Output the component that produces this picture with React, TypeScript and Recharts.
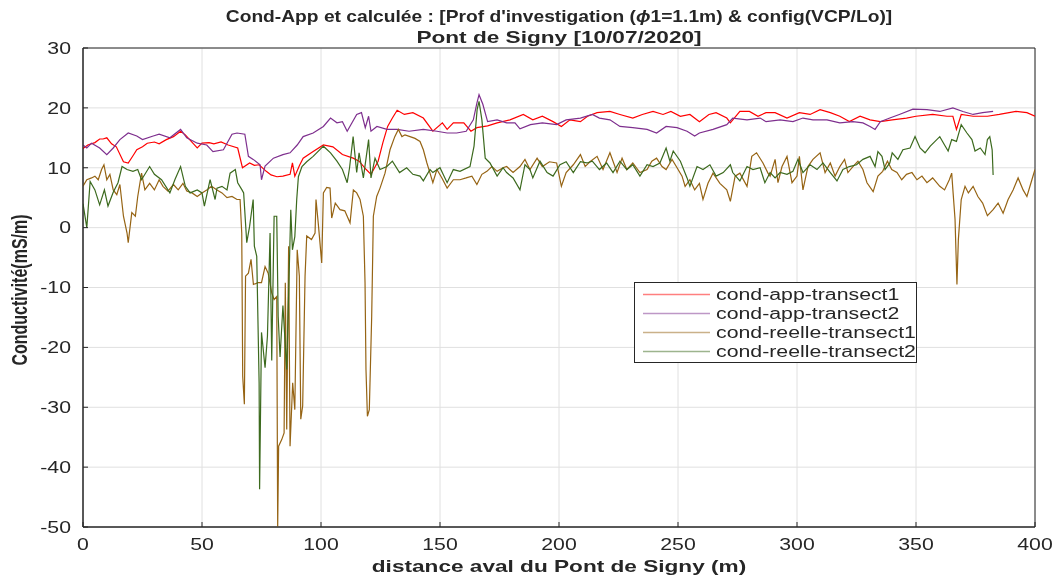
import { LineChart, Line, XAxis, YAxis, CartesianGrid, ReferenceArea } from "recharts";

const FONT = '"Liberation Sans", Arial, sans-serif';
const INK = "#262626";
// the source figure is stretched sideways, text included
const STRETCH = 1.33;

// distance (m), conductivité (mS/m)
const appTransect1: [number, number][] = [
  [0, 13.2], [2, 13.8], [5, 14.2], [7, 14.8], [8.4, 14.8], [10, 15], [12, 14], [14, 13.5], [17, 11], [19, 10.8],
  [21, 12], [22.6, 13], [25, 13.5], [27, 14.1], [30, 14.3], [32, 14], [35, 14.7], [38, 15.2], [41, 16.1], [43, 15.5],
  [45, 14.6], [48, 13.3], [50, 14.1], [53, 14.2], [55, 14], [58, 14.3], [61, 13.8], [65, 13.3], [67, 10], [70, 10.8],
  [72, 10.4], [74, 10.5], [77, 9.4], [79, 8.8], [81.5, 8.5], [84, 8.6], [87, 8.9], [88, 10.8], [89, 8.6], [91, 10.4],
  [92.5, 11.6], [96.7, 12.7], [101, 13.8], [105, 13.5], [109, 12.2], [113.5, 11.6], [116, 11.1], [119, 9.7], [121, 8.9], [124, 11.1],
  [126, 14.2], [128, 16.9], [130, 18.3], [132, 19.6], [135, 18.9], [138.6, 19.2], [143, 18.3], [147, 16.1], [151, 17.5], [153, 16.4],
  [155.6, 17.5], [160, 17.5], [163, 16.1], [165.5, 16.7], [170, 17], [174, 17.5], [179.4, 18], [185, 18.9], [189, 18], [193, 18.6],
  [197.5, 17.7], [201, 16.9], [204.6, 18], [209, 17.7], [212, 18.6], [216, 19.2], [221.4, 19.4], [225.6, 18.9], [231, 18.3], [235, 18.9],
  [239.5, 19.4], [243.7, 18.9], [247, 19.4], [251, 18.6], [255, 18.9], [259, 17.7], [263, 18.9], [266, 19.2], [270.5, 18.3], [272, 17.5],
  [276, 19.4], [280, 19.4], [283.6, 18.6], [287, 19.2], [290.8, 19.2], [295.8, 18.3], [301, 19.2], [305.5, 18.9], [309.7, 19.7], [314, 19.2],
  [318, 18.6], [322, 17.7], [326.5, 18.6], [330.7, 18], [335, 17.7], [340, 18], [346, 18.3], [350, 18.6], [357, 18.9], [363, 18.6],
  [365.5, 18.6], [367, 16.4], [369, 18.9], [374, 18.6], [380, 18.6], [385, 18.9], [392, 19.4], [396.6, 19.2], [400, 18.6],
];

const appTransect2: [number, number][] = [
  [0, 13.8], [1.6, 13.3], [3.6, 14.1], [7, 13.3], [10, 12.2], [12.7, 13.3], [15.5, 14.7], [19, 15.8], [22.6, 15.3], [25, 14.7],
  [29.5, 15.3], [32, 15.6], [36.5, 15], [41, 16.4], [43.6, 15], [48, 14.1], [52, 13.8], [54.6, 12.7], [59, 13], [62.6, 15.6],
  [64.7, 15.8], [68, 15.6], [69.5, 11.9], [71.5, 11.4], [74.4, 10.5], [75, 8], [76.5, 10.3], [80, 11.6], [84, 12.2], [87, 12.5],
  [90, 13.8], [92.5, 15.2], [96.7, 15.8], [101, 16.9], [104, 18.3], [106.7, 17.5], [109, 17.7], [111, 16.1], [115, 18.9], [117, 19.2],
  [118.6, 16.7], [120, 18.6], [121, 16.1], [123.5, 16.9], [127.7, 16.4], [132, 16.4], [137, 16.1], [143, 16.4], [148.7, 16.1], [153, 15.8],
  [157, 15.8], [161, 16.1], [164, 18], [165.5, 20.8], [166.4, 22.2], [168, 20.6], [170, 17.7], [174, 18], [178, 17.5], [181.5, 17.5],
  [183.6, 16.5], [188, 17.2], [193, 17.5], [199, 17.2], [203, 18], [209, 18.3], [214, 18.9], [217, 18.3], [221.4, 18], [225.6, 16.9],
  [231, 16.7], [237, 16.4], [241, 15.8], [245, 16.9], [249.6, 16.7], [253.8, 16.1], [257, 15.3], [259, 15.8], [264.7, 16.4], [270.5, 17.2],
  [273, 18.3], [279, 18], [284.5, 18.3], [287, 17.7], [292.9, 18], [298.3, 17.7], [302.5, 18.3], [306.7, 18], [312.6, 18], [318, 17.5],
  [323.5, 17.7], [327.7, 17.5], [330.7, 16.9], [332.8, 16.4], [335, 17.7], [339, 18.3], [343, 18.9], [348.7, 19.8], [354.6, 19.7], [360, 19.4],
  [365.5, 20], [369.7, 19.4], [374, 18.9], [378, 19.2], [382.4, 19.4],
];

const reelleTransect1: [number, number][] = [
  [0, 6.9], [1.6, 8], [3.6, 8.3], [5, 8.6], [6.4, 8], [7.8, 9.7], [8.8, 10.5], [10, 8], [11.3, 8.9], [12.7, 6.3],
  [14.2, 5.5], [15.5, 7.2], [17, 1.9], [18.5, -0.9], [19, -2.5], [20.5, 2.5], [22, 1.9], [23, 5.2], [24.6, 9.1], [26, 6.3],
  [28, 7.4], [30, 6.3], [32, 8], [33.6, 6.9], [35.7, 6.1], [38, 7.2], [40, 6.3], [42, 7.4], [43.6, 6.1], [45.8, 5.8],
  [48, 5.2], [50, 5.8], [52, 6.3], [54, 6.9], [56.3, 6.3], [58.4, 5.8], [60.5, 5], [62.6, 5.2], [64.7, 4.7], [66, 4.7],
  [66.7, -0.9], [67.1, -24.8], [67.8, -29.5], [68.3, -8.1], [69.5, -7.6], [70.6, -5.3], [71.6, -9.5], [73.5, -9.2], [75, -9.2], [76.5, -6.5],
  [77.8, -7.6], [79.3, -10.9], [80.3, -12], [81.4, -11.5], [81.8, -49.9], [82.2, -36.5], [83.5, -35.4], [84.5, -34.3], [85, -9.2], [85.6, -33.7],
  [86.4, -3.1], [87, -36.5], [88.1, -25.9], [89, -30.4], [90, -3.7], [90.9, -8.1], [91.5, -32], [92.3, -29.8], [93.3, -8.1], [94, -1.4],
  [96, -2], [97.5, -0.9], [97.9, 4.7], [98.9, 0.5], [100.3, -5.9], [101, 5.8], [102.4, 6.7], [103.8, 6.6], [104.5, 1.6], [106, 4.1],
  [108, 3], [110, 2.8], [112.2, 0.8], [113.6, 6.3], [115, 5.8], [116.4, 4.7], [117.8, 1.9], [118.5, -9.2], [118.9, -23.7], [119.5, -31.5],
  [120.3, -30.4], [121.3, -14.8], [122, 1.9], [123.4, 5.2], [124.8, 6.6], [126.9, 9.1], [129, 13], [131, 15.2], [132.5, 16.4], [134, 15.2],
  [135.3, 15.5], [137.4, 15.2], [139.5, 14.9], [141.6, 14.4], [143, 13], [144.5, 10.8], [145.8, 9.1], [147, 7.5], [148.7, 9.7], [150.8, 8.3],
  [153, 6.6], [155.6, 8], [158.4, 8], [161, 8.3], [163.4, 8.6], [165.5, 7.2], [167.6, 8.9], [169.7, 9.4], [171.8, 10.2], [174, 9.4],
  [176.5, 10], [178, 10.2], [180.7, 9.2], [183.6, 10.2], [185.7, 11.4], [187.8, 9.7], [190.8, 11.6], [193, 10.2], [196, 11], [199, 10.8],
  [201, 6.9], [203, 9.2], [206, 10.5], [209, 12.2], [211, 10.2], [213, 11], [216, 11.9], [218.5, 9.7], [221.4, 12.5], [224.4, 9.2],
  [226.5, 11.6], [228.5, 9.7], [231, 10.8], [234, 9.2], [237, 9.7], [239, 11.1], [241, 11.6], [243.3, 10.2], [245, 9.7], [247.5, 11.4],
  [249.6, 10], [251.7, 8.6], [253, 6.9], [255, 8], [257, 6.3], [259, 7.4], [260.5, 4.7], [262.6, 7.4], [264.7, 9.1], [267.6, 7.4],
  [270.5, 6.3], [272, 4.4], [274, 8.6], [276, 9.1], [279, 6.9], [281, 11.9], [283, 12.5], [285.7, 10.8], [287.8, 9.1], [288.7, 8.6],
  [290.8, 11.4], [292, 7.5], [293.7, 10.2], [295.8, 11.9], [297.9, 7.5], [300, 8.6], [301, 11.9], [302.5, 6.3], [304.6, 10.2], [306.7, 11.4],
  [309.7, 12.5], [311.8, 9.2], [314, 10.8], [316, 8.6], [318, 10.2], [320, 11.4], [321.4, 9.2], [323.5, 10.2], [325.6, 11.1], [327.7, 9.7],
  [329.4, 7.5], [332, 6], [334, 8.6], [336, 9.4], [338, 11.1], [339.8, 9.7], [342, 9.2], [344, 8], [346, 8.9], [348.3, 9.2],
  [350.4, 8], [352.5, 8.6], [354.6, 7.5], [357, 8.3], [360, 6.9], [362, 6.3], [364, 8], [365, 9.1], [365.5, 6.3], [366.4, 1.4],
  [367.2, -9.5], [367.8, -2], [369, 4.7], [370.6, 6.9], [372, 5.8], [374, 6.9], [376, 5.2], [378, 4.1], [380, 2], [382.4, 3],
  [384.5, 4.1], [386.6, 2.4], [388.7, 4.7], [390.8, 6.3], [392.9, 8.3], [395, 6.3], [396.6, 5.2], [398.7, 8], [400, 9.7],
];

const reelleTransect2: [number, number][] = [
  [0, 4], [1.6, 0], [3, 7.7], [5, 6.3], [7, 3.8], [9, 6.3], [10.5, 3.6], [12.7, 5.9], [14.7, 7.5], [16.4, 10.2],
  [18.5, 9.7], [21, 9.4], [23, 9.7], [24.6, 8], [28, 10.2], [30, 8.9], [33, 8], [36.5, 5.8], [38.6, 8], [41, 10.2],
  [43, 6.9], [45, 5.8], [48, 6.3], [50, 5.8], [51, 3.6], [53.4, 8], [55.5, 4.7], [56.3, 6.6], [58.4, 6.9], [60.5, 6.3],
  [61.8, 9.1], [64, 9.7], [65, 7.5], [66.8, 6.3], [67.5, 5.8], [68.8, -2.5], [70, 0.2], [71.5, 4.7], [72, -3.1], [73, -4.8],
  [74, -25.9], [74.2, -43.7], [75, -17.5], [76.5, -23.4], [77.5, -18.1], [78.6, -0.9], [79.3, -22.2], [80.3, 1.9], [81.4, 1.9], [82, -14.8],
  [82.8, -21.6], [84, -13], [85.6, -23.7], [87.3, 3], [88, -3.7], [89, -1.5], [89.8, 4.7], [90.5, 8.5], [92, 10.2], [94, 11],
  [96.7, 11.9], [101, 13.6], [104, 12.5], [106.7, 11.1], [109, 9.7], [111, 7.5], [112, 10], [113.5, 15.2], [115, 9.2], [116, 12.5],
  [117.8, 8.3], [120, 14.7], [121, 8.3], [122.7, 11.6], [124.8, 9.7], [127.7, 10.2], [130, 11.1], [133, 9.2], [136, 10], [138.6, 8.9],
  [141.6, 8.6], [143, 7.8], [145.8, 9.7], [147, 9.2], [150, 10], [153, 7.5], [155.6, 9.7], [158.4, 9.4], [162.6, 10.2], [164.3, 13.6],
  [165.6, 19.7], [166.4, 21.1], [167.6, 18], [169, 11.6], [171, 10.8], [174, 8.6], [176.5, 10], [178, 9.2], [180.7, 8.3], [183.6, 6.3],
  [185.7, 10.5], [187.8, 9.7], [189, 8.3], [192, 11.1], [195, 9.2], [197.5, 8.6], [200.4, 10.5], [203, 11], [206, 9.2], [209, 11],
  [211.7, 10.8], [214, 11.1], [217, 9.7], [220, 10.8], [222.7, 9.2], [225.6, 11.1], [228.5, 9.7], [231, 10.5], [234, 8.6], [237, 10.5],
  [239.5, 10.2], [242.4, 10.8], [245, 13.3], [246.6, 11.1], [248, 12.8], [251, 11.1], [253.8, 8.3], [255, 6.9], [258, 10.2], [260.5, 9.7],
  [263.4, 10.5], [266, 8.6], [269, 9.2], [272, 10.5], [273, 9.2], [276, 7.8], [279, 10.2], [281.5, 9.7], [284.5, 10], [286.5, 7.5],
  [288.7, 9.2], [290.8, 8.3], [292.9, 9.2], [295.8, 8.9], [298.3, 9.4], [300.4, 11.4], [302.5, 9.2], [305.5, 10.5], [308.4, 9.7], [310.9, 10.8],
  [314, 9.2], [316.8, 7.8], [319.3, 9.7], [322, 10.2], [325, 10.5], [327.7, 11.4], [330.7, 11.9], [332.8, 10.2], [334, 12.7], [335.7, 11.9],
  [337, 9.7], [339, 10.8], [340, 12.5], [342.4, 11.4], [344.5, 13], [347.5, 13.3], [349.6, 15.2], [351.7, 13.3], [353.8, 12.5], [356, 13.6],
  [358, 14.4], [360, 15.2], [362, 13.8], [363.5, 12.8], [365, 14.7], [367, 14.4], [369, 17.2], [371.4, 15.8], [373.5, 14.7], [374.8, 12.8],
  [377, 13.3], [379, 12.2], [380, 14.7], [381, 15.2], [382, 13], [382.4, 8.8],
];

const xTicks = [0, 50, 100, 150, 200, 250, 300, 350, 400];
const yTicks = [-50, -40, -30, -20, -10, 0, 10, 20, 30];

const series = [
  { name: "cond-app-transect1", pts: appTransect1, color: "#ff0000" },
  { name: "cond-app-transect2", pts: appTransect2, color: "#7e2f8e" },
  { name: "cond-reelle-transect1", pts: reelleTransect1, color: "#966414" },
  { name: "cond-reelle-transect2", pts: reelleTransect2, color: "#3c6a1e" },
];

const toRows = (pts: [number, number][]) => pts.map(([d, v]) => ({ d, v }));

function XTick({ x, y, payload }: any) {
  return (
    <text transform={`translate(${x},${y}) scale(${STRETCH},1)`} textAnchor="middle" dy="0.72em" fill={INK} fontSize={16} fontFamily={FONT}>
      {payload.value}
    </text>
  );
}

function YTick({ x, y, payload }: any) {
  return (
    <text transform={`translate(${x},${y}) scale(${STRETCH},1)`} textAnchor="end" dy="0.36em" fill={INK} fontSize={16} fontFamily={FONT}>
      {payload.value}
    </text>
  );
}

const stretched = { transform: `scaleX(${STRETCH})`, transformOrigin: "center" } as const;

export default function App() {
  return (
    <div style={{ position: "fixed", left: 0, top: 0, width: 1056, height: 576, background: "#fff", fontFamily: FONT, color: INK }}>
      <div style={{ position: "absolute", left: 83, width: 952, top: 7, textAlign: "center", fontWeight: "bold", fontSize: 17, lineHeight: "20px", transform: "scaleX(1.13)", transformOrigin: "center" }}>
        Cond-App et calculée : [Prof d'investigation (<i>ϕ</i>1=1.1m) &amp; config(VCP/Lo)]
      </div>
      <div style={{ position: "absolute", left: 83, width: 952, top: 28, textAlign: "center", fontWeight: "bold", fontSize: 17, lineHeight: "20px", ...stretched }}>
        Pont de Signy [10/07/2020]
      </div>
      <LineChart width={1056} height={576} margin={{ top: 48, right: 21, bottom: 19, left: 23 }}>
        <CartesianGrid stroke="#e0e0e0" />
        <XAxis
          dataKey="d"
          type="number"
          domain={[0, 400]}
          ticks={xTicks}
          allowDataOverflow
          height={30}
          tickSize={-5}
          tickMargin={16}
          stroke={INK}
          tick={<XTick />}
        />
        <YAxis
          type="number"
          domain={[-50, 30]}
          ticks={yTicks}
          allowDataOverflow
          width={60}
          tickSize={-5}
          tickMargin={17}
          stroke={INK}
          tick={<YTick />}
        />
        {series.map((s) => (
          <Line
            key={s.name}
            data={toRows(s.pts)}
            dataKey="v"
            name={s.name}
            type="linear"
            dot={false}
            stroke={s.color}
            strokeWidth={1.2}
            isAnimationActive={false}
          />
        ))}
        <ReferenceArea x1={0} x2={400} y1={-50} y2={30} fill="none" stroke={INK} strokeWidth={1} ifOverflow="extendDomain" />
      </LineChart>
      <div
        style={{
          position: "absolute",
          left: 20,
          top: 290,
          transform: `translate(-50%, -50%) rotate(-90deg) scale(1, ${STRETCH})`,
          whiteSpace: "nowrap",
          fontWeight: "bold",
          fontSize: 16,
        }}
      >
        Conductivité(mS/m)
      </div>
      <div style={{ position: "absolute", left: 83, width: 952, top: 557, textAlign: "center", fontWeight: "bold", fontSize: 17, lineHeight: "20px", ...stretched }}>
        distance aval du Pont de Signy (m)
      </div>
      <div
        style={{
          position: "absolute",
          left: 634,
          top: 282,
          width: 281,
          height: 79,
          border: `1px solid ${INK}`,
          background: "#fff",
        }}
      >
        {series.map((s, i) => (
          <div key={s.name} style={{ position: "absolute", left: 0, top: 2 + i * 19, height: 19, display: "flex", alignItems: "center" }}>
            <svg width={75} height={19} style={{ marginLeft: 8 }}>
              <line x1={0} x2={67} y1={9.5} y2={9.5} stroke={s.color} strokeWidth={1.5} strokeOpacity={0.5} />
            </svg>
            <span style={{ marginLeft: -2, fontSize: 16, whiteSpace: "nowrap", display: "inline-block", transform: `scaleX(${STRETCH})`, transformOrigin: "left center" }}>
              {s.name}
            </span>
          </div>
        ))}
      </div>
    </div>
  );
}
